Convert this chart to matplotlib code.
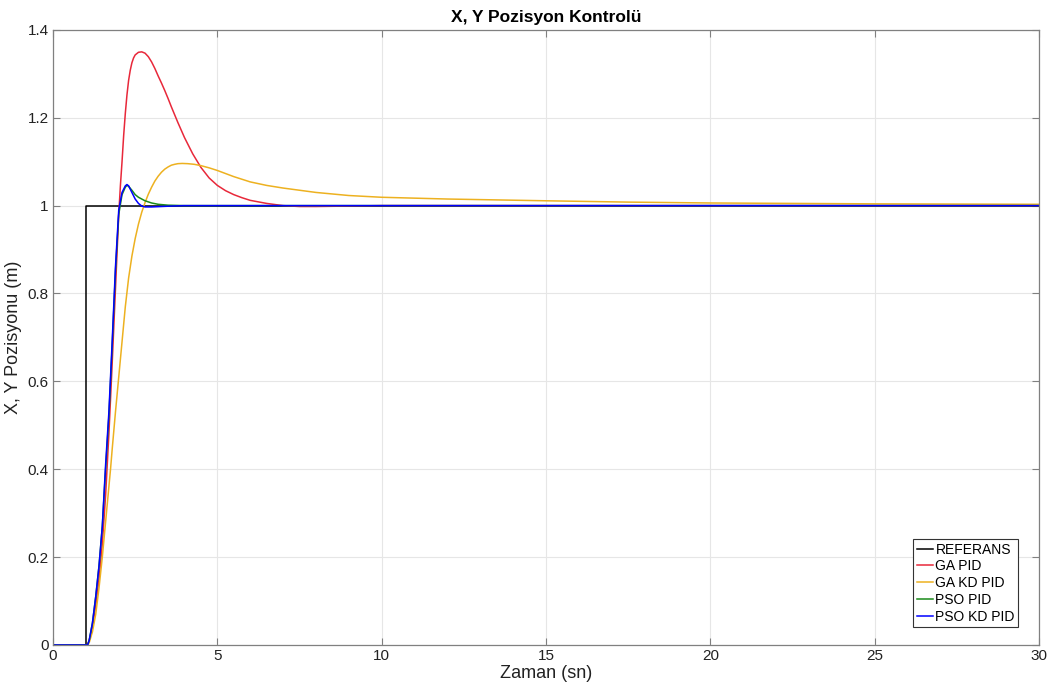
import matplotlib
matplotlib.use("Agg")
import matplotlib.pyplot as plt

plt.rcParams['font.family'] = ['Liberation Sans', 'DejaVu Sans']

# reference step
t_ref = [0, 1.0, 1.0, 30]
y_ref = [0, 0, 1, 1]

# GA PID
t_ga = [0, 1.0, 1.05, 1.1, 1.2, 1.3, 1.4, 1.5, 1.6, 1.7, 1.8, 1.9, 2.0, 2.05, 2.1, 2.15,
        2.2, 2.25, 2.3, 2.35, 2.4, 2.45, 2.5, 2.6, 2.7, 2.8, 2.9, 3.0, 3.1, 3.2, 3.3,
        3.4, 3.5, 3.6, 3.7, 3.8, 3.9, 4.0, 4.25, 4.5, 4.75, 5.0, 5.25, 5.5, 5.75, 6.0,
        6.5, 7.0, 7.5, 8.0, 9.0, 10, 30]
y_ga = [0, 0, 0, 0.01, 0.04, 0.09, 0.15, 0.23, 0.34, 0.48, 0.64, 0.81, 0.98, 1.045,
        1.10, 1.16, 1.21, 1.252, 1.285, 1.308, 1.325, 1.336, 1.343, 1.349, 1.350, 1.347,
        1.339, 1.327, 1.312, 1.295, 1.279, 1.262, 1.244, 1.225, 1.207, 1.189, 1.172,
        1.155, 1.118, 1.087, 1.063, 1.046, 1.034, 1.025, 1.018, 1.012, 1.005, 1.0,
        0.998, 0.998, 0.999, 1.0, 1.0]

# GA KD PID
t_gakd = [0, 1.0, 1.05, 1.1, 1.2, 1.3, 1.4, 1.5, 1.6, 1.7, 1.75, 1.8, 1.9, 2.0, 2.1,
          2.2, 2.3, 2.4, 2.5, 2.6, 2.7, 2.8, 2.9, 3.0, 3.1, 3.2, 3.3, 3.4, 3.5, 3.6,
          3.7, 3.8, 3.93, 4.1, 4.3, 4.5, 4.75, 5.0, 5.25, 5.5, 5.75, 6.0, 6.5, 7.0,
          7.5, 8.0, 9.0, 10, 11, 12, 13.5, 15, 17.5, 20, 25, 30]
y_gakd = [0, 0, 0, 0.005, 0.03, 0.07, 0.13, 0.20, 0.28, 0.36, 0.40, 0.445, 0.53, 0.61,
          0.69, 0.77, 0.835, 0.885, 0.925, 0.958, 0.985, 1.007, 1.026, 1.042, 1.056,
          1.067, 1.076, 1.083, 1.088, 1.092, 1.094, 1.0955, 1.096, 1.0955, 1.094,
          1.091, 1.086, 1.080, 1.073, 1.066, 1.060, 1.054, 1.046, 1.040, 1.035, 1.030,
          1.023, 1.019, 1.017, 1.015, 1.013, 1.011, 1.008, 1.006, 1.004, 1.003]

# PSO PID
t_pso = [0, 1.0, 1.05, 1.1, 1.2, 1.3, 1.4, 1.5, 1.6, 1.7, 1.8, 1.9, 2.0, 2.1, 2.2, 2.25,
         2.3, 2.4, 2.5, 2.6, 2.8, 3.0, 3.2, 3.5, 4.0, 30]
y_pso = [0, 0, 0, 0.01, 0.05, 0.11, 0.18, 0.27, 0.40, 0.52, 0.68, 0.85, 0.98, 1.025,
         1.042, 1.046, 1.044, 1.035, 1.025, 1.019, 1.011, 1.006, 1.003, 1.001, 1.0, 1.0]

# PSO KD PID
t_psokd = [0, 1.0, 1.05, 1.1, 1.2, 1.3, 1.4, 1.5, 1.6, 1.7, 1.8, 1.9, 2.0, 2.1, 2.2,
           2.25, 2.3, 2.4, 2.5, 2.6, 2.7, 2.8, 3.0, 3.3, 3.6, 4.0, 30]
y_psokd = [0, 0, 0, 0.01, 0.05, 0.11, 0.18, 0.27, 0.41, 0.53, 0.69, 0.86, 0.99, 1.03,
           1.045, 1.048, 1.045, 1.03, 1.015, 1.005, 0.999, 0.997, 0.997, 0.998, 0.999,
           1.0, 1.0]

fig = plt.figure(figsize=(10.56, 6.95), dpi=100)
ax = fig.add_axes([0.0502, 0.072, 0.9337, 0.885])

ax.plot(t_ref, y_ref, color='black', lw=1.1, label='REFERANS')
ax.plot(t_ga, y_ga, color='#e8283a', lw=1.1, label='GA PID')
ax.plot(t_gakd, y_gakd, color='#edb120', lw=1.1, label='GA KD PID')
ax.plot(t_pso, y_pso, color='#1a8a1a', lw=1.1, label='PSO PID')
ax.plot(t_psokd, y_psokd, color='#0000ff', lw=1.1, label='PSO KD PID')

ax.set_xlim(0, 30)
ax.set_ylim(0, 1.4)
ax.set_xticks([0, 5, 10, 15, 20, 25, 30])
ax.set_yticks([0, 0.2, 0.4, 0.6, 0.8, 1.0, 1.2, 1.4])
ax.set_yticklabels(['0', '0.2', '0.4', '0.6', '0.8', '1', '1.2', '1.4'])
ax.grid(True, color='#e6e6e6', lw=0.8)
ax.set_axisbelow(True)
ax.tick_params(direction='in', top=True, right=True, labelsize=11,
               length=5, width=0.8, pad=3, colors='#808080', labelcolor='#222222')
for s in ax.spines.values():
    s.set_color('#808080')
    s.set_linewidth(0.9)

ax.set_xlabel('Zaman (sn)', fontsize=13, labelpad=1, color='#222222')
ax.set_ylabel('X, Y Pozisyonu (m)', fontsize=13, labelpad=4, color='#222222')
ax.set_title('X, Y Pozisyon Kontrolü', fontsize=12.5, fontweight='bold', pad=6)

leg = ax.legend(loc='lower right', bbox_to_anchor=(0.979, 0.029), fontsize=10,
                frameon=True, fancybox=False, framealpha=1, edgecolor='#333333',
                handlelength=1.2, handletextpad=0.15, borderpad=0.25,
                labelspacing=0.2, borderaxespad=0)
leg.get_frame().set_linewidth(0.8)

fig.savefig('out.png', dpi=100)
